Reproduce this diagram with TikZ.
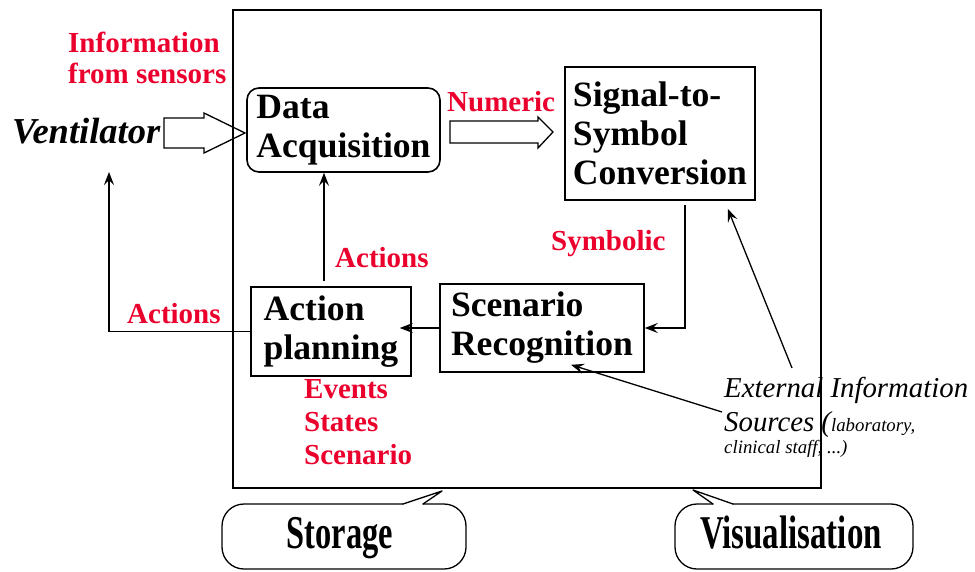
\documentclass[tikz,border=0pt]{standalone}
\usepackage{fontspec}
\setmainfont{Liberation Serif}
\usetikzlibrary{arrows.meta}

\definecolor{labred}{RGB}{235,0,45}
\newcommand\boxfont{\fontsize{35.6}{39}\selectfont\bfseries}
\newcommand\redfont{\fontsize{29}{31}\selectfont\bfseries}
\newcommand\extfont{\fontsize{28.8}{34}\selectfont\itshape}
\newcommand\smallext{\fontsize{18.8}{22}\selectfont}
\newcommand\bubblefont{\fontsize{47}{50}\selectfont\bfseries}

\tikzset{
  module/.style={draw, line width=1.6pt, align=left, font=\boxfont, inner sep=0pt},
  lbl/.style={text=labred, font=\redfont, inner sep=0pt, align=left},
  link/.style={line width=1.3pt, -{Stealth[length=13pt,width=10pt,inset=5pt]}},
  fat/.style={line width=1.3pt, line join=miter},
  bubble/.style={line width=1.3pt, line cap=round, line join=round},
}

\begin{document}
\begin{tikzpicture}[x=1pt, y=-1pt]
  \useasboundingbox (0,0) rectangle (975,571);

  % system frame
  \node[draw, line width=1.3pt, minimum width=588pt, minimum height=478pt] (sys) at (527,249) {};

  % modules
  \node[module, rounded corners=12pt, minimum width=193pt, minimum height=84pt] (acq) at (343.5,130) {Data\\Acquisition};
  \node[module, minimum width=190pt, minimum height=133pt] (sig) at (660,133.5) {Signal-to-\\Symbol\\Conversion};
  \node[module, minimum width=160pt, minimum height=89pt] (plan) at (331,331.5) {Action\\planning};
  \node[module, minimum width=204pt, minimum height=88pt] (scen) at (542,328) {Scenario\\Recognition};

  % ventilator and fat arrows
  \node[font=\fontsize{36.5}{39}\selectfont\bfseries\itshape, anchor=base west, inner sep=0pt] (vent) at (12,143) {Ventilator};
  \draw[fat] (164,118) -- ++(40,0) -- ++(0,-5) -- ++(41,20) -- ++(-41,20) -- ++(0,-5) -- ++(-40,0) -- cycle;
  \draw[fat] (450,121) -- ++(88,0) -- ++(0,-4) -- ++(15,15) -- ++(-15,16) -- ++(0,-5) -- ++(-88,0) -- cycle;

  % red labels
  \node[lbl, anchor=north west] (sensors) at (68,32) {Information\\from sensors};
  \node[lbl, anchor=base west] (numeric) at (447,111) {Numeric};
  \node[lbl, anchor=base west] (symbolic) at (551,250) {Symbolic};
  \node[lbl, anchor=base west] (act1) at (335,267) {Actions};
  \node[lbl, anchor=base west] (act2) at (127,323) {Actions};
  \node[lbl, anchor=north west] (events) at (304,379) {Events\\[2pt]States\\[2pt]Scenario};

  % external sources
  \node[font=\extfont, anchor=north west, inner sep=0pt, align=left] (ext) at (724,377)
    {External Information\\Sources ({\smallext laboratory,}\\[-12pt]{\smallext clinical staff, ...)}};

  % connectors
  \coordinate (up) at ([xshift=-7pt]plan.north);
  \coordinate (ventin) at (109,172);
  \coordinate (sigin) at ([shift={(-28,8)}]sig.south east);
  \draw[link, shorten <=5pt] (up) -- (up |- acq.south);
  \draw[link] (plan.west) -| (ventin);
  \draw[link, shorten >=-12pt] (scen.west) -- (scen.west -| plan.east);
  \draw[link, shorten <=4pt] ([xshift=25pt]sig.south) |- (scen.east);
  \draw[link] ([shift={(68,-9)}]ext.north west) -- (sigin);
  \draw[link] ([shift={(-2,35)}]ext.north west) -- ([shift={(29,-8)}]scen.south);

  % callouts
  \draw[bubble, rounded corners=22pt] (423,504) -- (466,504) -- (466,569) -- (222,569) -- (222,504) -- (403,504);
  \draw[bubble] (403,504) -- (442,491) -- (423,504);
  \node[anchor=base, font=\bubblefont, inner sep=0pt] (store) at (340,548) {\scalebox{0.69}[1]{Storage}};
  \draw[bubble, rounded corners=22pt] (733,504) -- (913,504) -- (913,569) -- (675,569) -- (675,504) -- (713,504);
  \draw[bubble] (713,504) -- (693,490) -- (733,504);
  \node[anchor=base, font=\bubblefont, inner sep=0pt] (visu) at (791,548) {\scalebox{0.70}[1]{Visualisation}};
\end{tikzpicture}
\end{document}
